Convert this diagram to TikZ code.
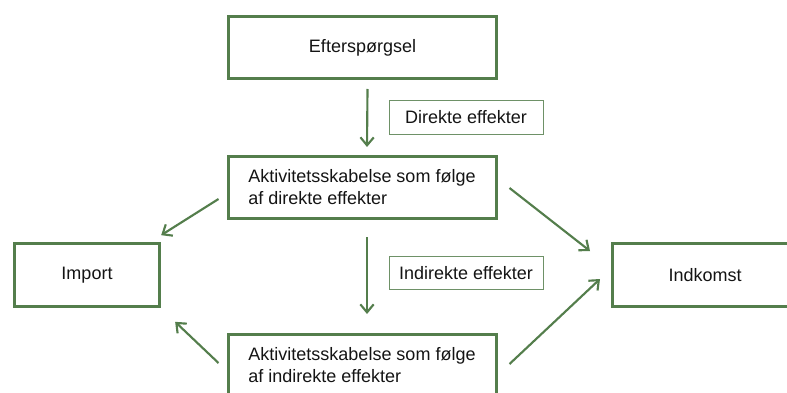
\documentclass[tikz,border=0pt]{standalone}
\usepackage{fontspec}
\setmainfont{Liberation Sans}
\usetikzlibrary{arrows.meta,calc}
\definecolor{efgreen}{RGB}{84,126,76}
\definecolor{eftext}{RGB}{20,20,20}

\begin{document}
\begin{tikzpicture}[x=0.75pt,y=-0.75pt,
  box/.style={draw=efgreen, line width=2.25pt, minimum width=201pt,
    minimum height=46.5pt, inner sep=0pt, align=left, text=eftext,
    font=\fontsize{13.5}{16.5}\selectfont},
  tag/.style={draw=efgreen!85, line width=0.75pt, minimum width=115.5pt,
    minimum height=24.75pt, inner sep=0pt, text=eftext,
    font=\fontsize{13.5}{16}\selectfont},
  flow/.style={efgreen, line width=1.6pt,
    -{Straight Barb[length=6pt,width=10pt]}}]
\useasboundingbox (0,0) rectangle (787,392);
% Boxes
\node[box] (dem) at (362.5,47.5) {Efterspørgsel};
\node[box] (mid) at (362,187.5) {Aktivitetsskabelse som følge\\af direkte effekter};
\node[box] (bot) at (362,365.5) {Aktivitetsskabelse som følge\\af indirekte effekter};
\node[box, minimum width=109pt, minimum height=47pt] (imp) at (87,275) {Import};
% Indkomst runs off the right edge
\node[box, anchor=west, minimum width=0pt, minimum height=47pt] (ink) at (611,275)
  {\makebox[139pt]{Indkomst}\hspace{60pt}};
% Labels
\node[tag] (dir) at (466,117.5) {Direkte effekter};
\node[tag] (ind) at (466,273) {Indirekte effekter};
% Arrows
\draw[flow] ($(dem.south)+(5,9)$) -- ($(mid.north)+(5,-8)$);
\draw[flow] ($(mid.south)+(5,17)$) -- ($(bot.north)+(5,-19)$);
\draw[flow] ($(mid.west)+(-8,11.5)$) -- ($(imp.north east)+(0,-7)$);
\draw[flow] ($(bot.west)+(-8,-2.5)$) -- ($(imp.south east)+(14,14)$);
\draw[flow] ($(mid.east)+(12,0.5)$) -- ($(ink.west)+(-21,-24)$);
\draw[flow] ($(bot.east)+(12,-1.5)$) -- ($(ink.west)+(-11,4)$);
\end{tikzpicture}
\end{document}
